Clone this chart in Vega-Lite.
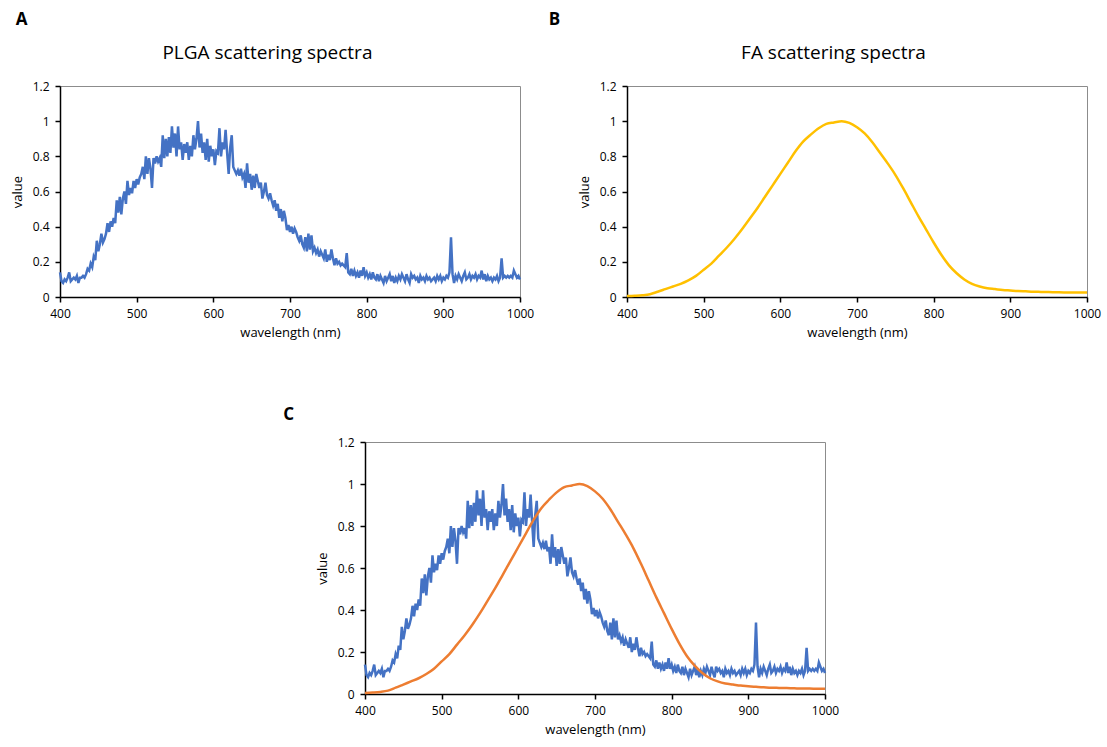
{
  "$schema": "https://vega.github.io/schema/vega-lite/v6.json",
  "background": "white",
  "padding": {"left": 10, "top": 10, "right": 5, "bottom": 5},
  "config": {
    "font": "Open Sans",
    "view": {"stroke": "#8c8c8c", "strokeWidth": 1},
    "axis": {
      "grid": false,
      "domainColor": "#000000",
      "domainWidth": 1.5,
      "tickColor": "#000000",
      "tickWidth": 1.5,
      "tickSize": 5,
      "labelColor": "#000000",
      "titleColor": "#000000",
      "labelFont": "Open Sans",
      "titleFont": "Open Sans",
      "labelFontSize": 12,
      "titleFontSize": 13,
      "titleFontWeight": "normal",
      "labelPadding": 6,
      "labelFlush": false,
      "labelOverlap": false
    },
    "axisX": {"titlePadding": 7},
    "axisY": {"titlePadding": 8},
    "title": {"font": "Open Sans", "color": "#000000"}
  },
  "datasets": {
    "plga": [
      {"wavelength":400,"value":0.14},{"wavelength":402,"value":0.09},{"wavelength":404,"value":0.08},{"wavelength":406,"value":0.10},{"wavelength":408,"value":0.09},
      {"wavelength":410,"value":0.11},{"wavelength":412,"value":0.14},{"wavelength":414,"value":0.09},{"wavelength":416,"value":0.10},{"wavelength":418,"value":0.11},
      {"wavelength":420,"value":0.10},{"wavelength":422,"value":0.12},{"wavelength":424,"value":0.08},{"wavelength":426,"value":0.11},{"wavelength":428,"value":0.11},
      {"wavelength":430,"value":0.12},{"wavelength":432,"value":0.11},{"wavelength":434,"value":0.13},{"wavelength":436,"value":0.16},{"wavelength":438,"value":0.15},
      {"wavelength":440,"value":0.19},{"wavelength":442,"value":0.17},{"wavelength":444,"value":0.23},{"wavelength":446,"value":0.21},{"wavelength":448,"value":0.32},
      {"wavelength":450,"value":0.26},{"wavelength":452,"value":0.30},{"wavelength":454,"value":0.36},{"wavelength":456,"value":0.31},{"wavelength":458,"value":0.33},
      {"wavelength":460,"value":0.36},{"wavelength":462,"value":0.42},{"wavelength":464,"value":0.37},{"wavelength":466,"value":0.43},{"wavelength":468,"value":0.40},
      {"wavelength":470,"value":0.45},{"wavelength":472,"value":0.42},{"wavelength":474,"value":0.55},{"wavelength":476,"value":0.48},{"wavelength":478,"value":0.57},
      {"wavelength":480,"value":0.47},{"wavelength":482,"value":0.56},{"wavelength":484,"value":0.60},{"wavelength":486,"value":0.53},{"wavelength":488,"value":0.66},
      {"wavelength":490,"value":0.58},{"wavelength":492,"value":0.62},{"wavelength":494,"value":0.59},{"wavelength":496,"value":0.66},{"wavelength":498,"value":0.62},
      {"wavelength":500,"value":0.67},{"wavelength":502,"value":0.64},{"wavelength":504,"value":0.68},{"wavelength":506,"value":0.70},{"wavelength":508,"value":0.74},
      {"wavelength":510,"value":0.67},{"wavelength":512,"value":0.80},{"wavelength":514,"value":0.70},{"wavelength":516,"value":0.79},{"wavelength":518,"value":0.73},
      {"wavelength":520,"value":0.62},{"wavelength":522,"value":0.79},{"wavelength":524,"value":0.76},{"wavelength":526,"value":0.80},{"wavelength":528,"value":0.77},
      {"wavelength":530,"value":0.79},{"wavelength":532,"value":0.74},{"wavelength":534,"value":0.92},{"wavelength":536,"value":0.79},{"wavelength":538,"value":0.90},
      {"wavelength":540,"value":0.80},{"wavelength":542,"value":0.91},{"wavelength":544,"value":0.82},{"wavelength":546,"value":0.97},{"wavelength":548,"value":0.85},
      {"wavelength":550,"value":0.93},{"wavelength":552,"value":0.80},{"wavelength":554,"value":0.97},{"wavelength":556,"value":0.84},{"wavelength":558,"value":0.88},
      {"wavelength":560,"value":0.78},{"wavelength":562,"value":0.87},{"wavelength":564,"value":0.82},{"wavelength":566,"value":0.88},{"wavelength":568,"value":0.78},
      {"wavelength":570,"value":0.86},{"wavelength":572,"value":0.80},{"wavelength":574,"value":0.92},{"wavelength":576,"value":0.84},{"wavelength":578,"value":0.90},
      {"wavelength":580,"value":1.00},{"wavelength":582,"value":0.85},{"wavelength":584,"value":0.93},{"wavelength":586,"value":0.82},{"wavelength":588,"value":0.88},
      {"wavelength":590,"value":0.78},{"wavelength":592,"value":0.90},{"wavelength":594,"value":0.77},{"wavelength":596,"value":0.86},{"wavelength":598,"value":0.80},
      {"wavelength":600,"value":0.84},{"wavelength":602,"value":0.75},{"wavelength":604,"value":0.83},{"wavelength":606,"value":0.82},{"wavelength":608,"value":0.96},
      {"wavelength":610,"value":0.80},{"wavelength":612,"value":0.88},{"wavelength":614,"value":0.84},{"wavelength":616,"value":0.95},{"wavelength":618,"value":0.82},
      {"wavelength":620,"value":0.70},{"wavelength":622,"value":0.85},{"wavelength":624,"value":0.92},{"wavelength":626,"value":0.74},{"wavelength":628,"value":0.72},
      {"wavelength":630,"value":0.70},{"wavelength":632,"value":0.72},{"wavelength":634,"value":0.69},{"wavelength":636,"value":0.73},{"wavelength":638,"value":0.68},
      {"wavelength":640,"value":0.70},{"wavelength":642,"value":0.62},{"wavelength":644,"value":0.76},{"wavelength":646,"value":0.65},{"wavelength":648,"value":0.70},
      {"wavelength":650,"value":0.61},{"wavelength":652,"value":0.69},{"wavelength":654,"value":0.62},{"wavelength":656,"value":0.70},{"wavelength":658,"value":0.66},
      {"wavelength":660,"value":0.62},{"wavelength":662,"value":0.65},{"wavelength":664,"value":0.56},{"wavelength":666,"value":0.60},{"wavelength":668,"value":0.65},
      {"wavelength":670,"value":0.58},{"wavelength":672,"value":0.56},{"wavelength":674,"value":0.59},{"wavelength":676,"value":0.55},{"wavelength":678,"value":0.52},
      {"wavelength":680,"value":0.55},{"wavelength":682,"value":0.49},{"wavelength":684,"value":0.53},{"wavelength":686,"value":0.45},{"wavelength":688,"value":0.50},
      {"wavelength":690,"value":0.43},{"wavelength":692,"value":0.49},{"wavelength":694,"value":0.45},{"wavelength":696,"value":0.38},{"wavelength":698,"value":0.41},
      {"wavelength":700,"value":0.37},{"wavelength":702,"value":0.40},{"wavelength":704,"value":0.36},{"wavelength":706,"value":0.39},{"wavelength":708,"value":0.37},
      {"wavelength":710,"value":0.34},{"wavelength":712,"value":0.32},{"wavelength":714,"value":0.35},{"wavelength":716,"value":0.30},{"wavelength":718,"value":0.28},
      {"wavelength":720,"value":0.34},{"wavelength":722,"value":0.26},{"wavelength":724,"value":0.36},{"wavelength":726,"value":0.27},{"wavelength":728,"value":0.35},
      {"wavelength":730,"value":0.26},{"wavelength":732,"value":0.28},{"wavelength":734,"value":0.25},{"wavelength":736,"value":0.27},{"wavelength":738,"value":0.23},
      {"wavelength":740,"value":0.26},{"wavelength":742,"value":0.24},{"wavelength":744,"value":0.22},{"wavelength":746,"value":0.27},{"wavelength":748,"value":0.20},
      {"wavelength":750,"value":0.24},{"wavelength":752,"value":0.21},{"wavelength":754,"value":0.27},{"wavelength":756,"value":0.22},{"wavelength":758,"value":0.18},
      {"wavelength":760,"value":0.22},{"wavelength":762,"value":0.19},{"wavelength":764,"value":0.20},{"wavelength":766,"value":0.18},{"wavelength":768,"value":0.19},
      {"wavelength":770,"value":0.18},{"wavelength":772,"value":0.17},{"wavelength":774,"value":0.25},{"wavelength":776,"value":0.14},{"wavelength":778,"value":0.13},
      {"wavelength":780,"value":0.16},{"wavelength":782,"value":0.12},{"wavelength":784,"value":0.15},{"wavelength":786,"value":0.12},{"wavelength":788,"value":0.14},
      {"wavelength":790,"value":0.11},{"wavelength":792,"value":0.15},{"wavelength":794,"value":0.12},{"wavelength":796,"value":0.17},{"wavelength":798,"value":0.12},
      {"wavelength":800,"value":0.14},{"wavelength":802,"value":0.11},{"wavelength":804,"value":0.13},{"wavelength":806,"value":0.10},{"wavelength":808,"value":0.14},
      {"wavelength":810,"value":0.11},{"wavelength":812,"value":0.10},{"wavelength":814,"value":0.13},{"wavelength":816,"value":0.09},{"wavelength":818,"value":0.12},
      {"wavelength":820,"value":0.10},{"wavelength":822,"value":0.08},{"wavelength":824,"value":0.12},{"wavelength":826,"value":0.09},{"wavelength":828,"value":0.11},
      {"wavelength":830,"value":0.13},{"wavelength":832,"value":0.09},{"wavelength":834,"value":0.12},{"wavelength":836,"value":0.08},{"wavelength":838,"value":0.11},
      {"wavelength":840,"value":0.09},{"wavelength":842,"value":0.12},{"wavelength":844,"value":0.10},{"wavelength":846,"value":0.13},{"wavelength":848,"value":0.11},
      {"wavelength":850,"value":0.09},{"wavelength":852,"value":0.13},{"wavelength":854,"value":0.10},{"wavelength":856,"value":0.08},{"wavelength":858,"value":0.13},
      {"wavelength":860,"value":0.11},{"wavelength":862,"value":0.12},{"wavelength":864,"value":0.10},{"wavelength":866,"value":0.11},{"wavelength":868,"value":0.08},
      {"wavelength":870,"value":0.12},{"wavelength":872,"value":0.10},{"wavelength":874,"value":0.11},{"wavelength":876,"value":0.09},{"wavelength":878,"value":0.12},
      {"wavelength":880,"value":0.10},{"wavelength":882,"value":0.11},{"wavelength":884,"value":0.09},{"wavelength":886,"value":0.10},{"wavelength":888,"value":0.11},
      {"wavelength":890,"value":0.09},{"wavelength":892,"value":0.12},{"wavelength":894,"value":0.10},{"wavelength":896,"value":0.12},{"wavelength":898,"value":0.09},
      {"wavelength":900,"value":0.11},{"wavelength":902,"value":0.10},{"wavelength":904,"value":0.12},{"wavelength":906,"value":0.11},{"wavelength":908,"value":0.14},
      {"wavelength":910,"value":0.34},{"wavelength":912,"value":0.13},{"wavelength":914,"value":0.08},{"wavelength":916,"value":0.12},{"wavelength":918,"value":0.10},
      {"wavelength":920,"value":0.13},{"wavelength":922,"value":0.11},{"wavelength":924,"value":0.09},{"wavelength":926,"value":0.12},{"wavelength":928,"value":0.14},
      {"wavelength":930,"value":0.10},{"wavelength":932,"value":0.11},{"wavelength":934,"value":0.13},{"wavelength":936,"value":0.10},{"wavelength":938,"value":0.12},
      {"wavelength":940,"value":0.11},{"wavelength":942,"value":0.13},{"wavelength":944,"value":0.10},{"wavelength":946,"value":0.12},{"wavelength":948,"value":0.11},
      {"wavelength":950,"value":0.15},{"wavelength":952,"value":0.10},{"wavelength":954,"value":0.13},{"wavelength":956,"value":0.09},{"wavelength":958,"value":0.12},
      {"wavelength":960,"value":0.10},{"wavelength":962,"value":0.11},{"wavelength":964,"value":0.09},{"wavelength":966,"value":0.11},{"wavelength":968,"value":0.10},
      {"wavelength":970,"value":0.12},{"wavelength":972,"value":0.09},{"wavelength":974,"value":0.11},{"wavelength":976,"value":0.22},{"wavelength":978,"value":0.11},
      {"wavelength":980,"value":0.12},{"wavelength":982,"value":0.11},{"wavelength":984,"value":0.12},{"wavelength":986,"value":0.11},{"wavelength":988,"value":0.12},
      {"wavelength":990,"value":0.11},{"wavelength":992,"value":0.15},{"wavelength":994,"value":0.13},{"wavelength":996,"value":0.11},{"wavelength":998,"value":0.12},
      {"wavelength":1000,"value":0.10}
    ],
    "fa": [
      {"wavelength":400,"value":0.005},{"wavelength":410,"value":0.007},{"wavelength":420,"value":0.01},{"wavelength":430,"value":0.016},{"wavelength":440,"value":0.03},
      {"wavelength":450,"value":0.045},{"wavelength":460,"value":0.06},{"wavelength":470,"value":0.075},{"wavelength":480,"value":0.095},{"wavelength":490,"value":0.12},
      {"wavelength":500,"value":0.155},{"wavelength":510,"value":0.19},{"wavelength":520,"value":0.235},{"wavelength":530,"value":0.28},{"wavelength":540,"value":0.33},
      {"wavelength":550,"value":0.385},{"wavelength":560,"value":0.445},{"wavelength":570,"value":0.505},{"wavelength":580,"value":0.57},{"wavelength":590,"value":0.635},
      {"wavelength":600,"value":0.70},{"wavelength":610,"value":0.765},{"wavelength":620,"value":0.83},{"wavelength":630,"value":0.885},{"wavelength":640,"value":0.925},
      {"wavelength":650,"value":0.96},{"wavelength":660,"value":0.985},{"wavelength":670,"value":0.993},{"wavelength":680,"value":1.0},{"wavelength":690,"value":0.99},
      {"wavelength":700,"value":0.965},{"wavelength":710,"value":0.93},{"wavelength":720,"value":0.88},{"wavelength":730,"value":0.82},{"wavelength":740,"value":0.76},
      {"wavelength":750,"value":0.695},{"wavelength":760,"value":0.62},{"wavelength":770,"value":0.54},{"wavelength":780,"value":0.46},{"wavelength":790,"value":0.385},
      {"wavelength":800,"value":0.31},{"wavelength":810,"value":0.24},{"wavelength":820,"value":0.18},{"wavelength":830,"value":0.135},{"wavelength":840,"value":0.10},
      {"wavelength":850,"value":0.075},{"wavelength":860,"value":0.06},{"wavelength":870,"value":0.05},{"wavelength":880,"value":0.045},{"wavelength":890,"value":0.04},
      {"wavelength":900,"value":0.037},{"wavelength":910,"value":0.034},{"wavelength":920,"value":0.032},{"wavelength":930,"value":0.03},{"wavelength":940,"value":0.029},
      {"wavelength":950,"value":0.028},{"wavelength":960,"value":0.027},{"wavelength":970,"value":0.026},{"wavelength":980,"value":0.026},{"wavelength":990,"value":0.025},
      {"wavelength":1000,"value":0.025}
    ]
  },
  "vconcat": [
    {
      "hconcat": [
        {
          "title": {"text": "A", "anchor": "start", "frame": "bounds", "fontSize": 17, "fontWeight": "bold", "dx": 5, "offset": 15},
          "vconcat": [
            {
              "title": {"text": "PLGA scattering spectra", "fontSize": 19, "fontWeight": "normal", "offset": 17, "frame": "bounds", "dx": -5},
              "width": 460,
              "height": 211,
              "data": {"name": "plga"},
              "mark": {"type": "line", "color": "#4472C4", "strokeWidth": 2.5},
              "encoding": {
                "x": {"field": "wavelength", "type": "quantitative", "scale": {"domain": [400, 1000], "nice": false, "zero": false}, "axis": {"title": "wavelength (nm)", "values": [400, 500, 600, 700, 800, 900, 1000], "format": "d"}},
                "y": {"field": "value", "type": "quantitative", "scale": {"domain": [0, 1.2], "nice": false}, "axis": {"title": "value", "values": [0, 0.2, 0.4, 0.6, 0.8, 1, 1.2], "format": "~g"}}
              }
            }
          ]
        },
        {
          "title": {"text": "B", "anchor": "start", "frame": "bounds", "fontSize": 17, "fontWeight": "bold", "dx": -29, "offset": 15},
          "vconcat": [
            {
              "title": {"text": "FA scattering spectra", "fontSize": 19, "fontWeight": "normal", "offset": 17, "frame": "bounds", "dx": -6},
              "width": 460,
              "height": 211,
              "data": {"name": "fa"},
              "mark": {"type": "line", "color": "#FFC000", "strokeWidth": 2.5, "interpolate": "monotone"},
              "encoding": {
                "x": {"field": "wavelength", "type": "quantitative", "scale": {"domain": [400, 1000], "nice": false, "zero": false}, "axis": {"title": "wavelength (nm)", "values": [400, 500, 600, 700, 800, 900, 1000], "format": "d"}},
                "y": {"field": "value", "type": "quantitative", "scale": {"domain": [0, 1.2], "nice": false}, "axis": {"title": "value", "values": [0, 0.2, 0.4, 0.6, 0.8, 1, 1.2], "format": "~g"}}
              }
            }
          ]
        }
      ],
      "spacing": 13
    },
    {
      "hconcat": [
        {
          "width": 222,
          "height": 252,
          "data": {"values": []},
          "mark": {"type": "point"},
          "view": {"stroke": null}
        },
        {
          "title": {"text": "C", "anchor": "start", "frame": "bounds", "fontSize": 17, "fontWeight": "bold", "dx": -33, "offset": 12},
          "width": 460,
          "height": 252,
          "layer": [
            {
              "data": {"name": "plga"},
              "mark": {"type": "line", "color": "#4472C4", "strokeWidth": 2.5},
              "encoding": {
                "x": {"field": "wavelength", "type": "quantitative", "scale": {"domain": [400, 1000], "nice": false, "zero": false}, "axis": {"title": "wavelength (nm)", "values": [400, 500, 600, 700, 800, 900, 1000], "format": "d"}},
                "y": {"field": "value", "type": "quantitative", "scale": {"domain": [0, 1.2], "nice": false}, "axis": {"title": "value", "values": [0, 0.2, 0.4, 0.6, 0.8, 1, 1.2], "format": "~g"}}
              }
            },
            {
              "data": {"name": "fa"},
              "mark": {"type": "line", "color": "#ED7D31", "strokeWidth": 2.5, "interpolate": "monotone"},
              "encoding": {
                "x": {"field": "wavelength", "type": "quantitative"},
                "y": {"field": "value", "type": "quantitative"}
              }
            }
          ]
        }
      ],
      "spacing": 0
    }
  ],
  "spacing": 65
}
